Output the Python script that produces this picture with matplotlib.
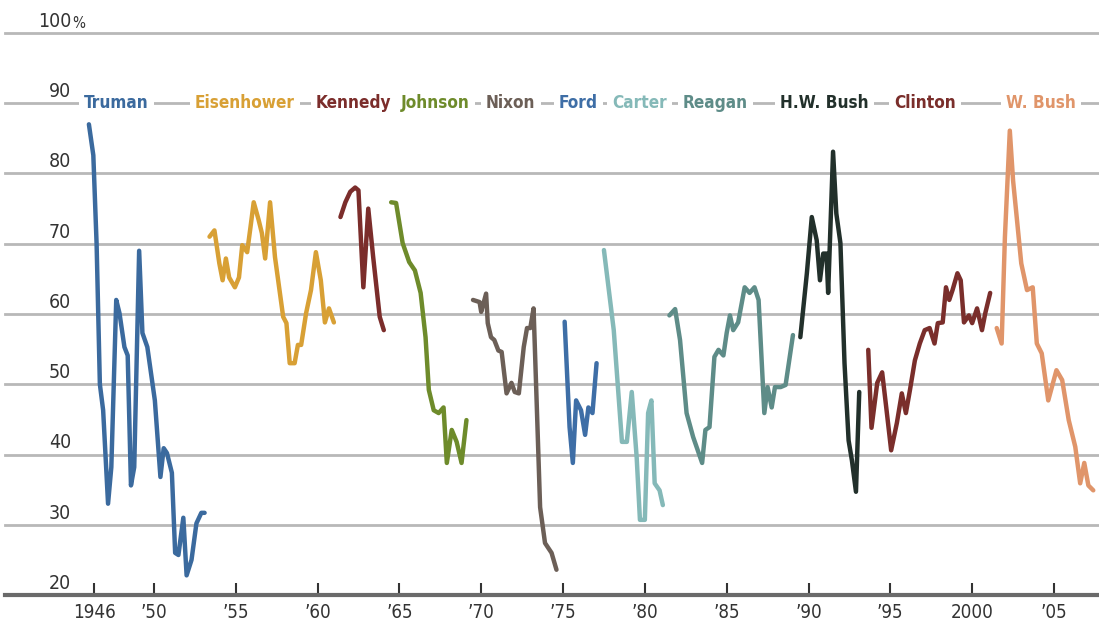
import matplotlib
matplotlib.use("Agg")
import matplotlib.pyplot as plt

# approval ratings (%) by president, x = fractional year
truman_x = [1946.03, 1946.3, 1946.5, 1946.7, 1946.9, 1947.2, 1947.4, 1947.7, 1947.9, 1948.2, 1948.4, 1948.6,
            1948.8, 1949.1, 1949.3, 1949.6, 1950.06, 1950.4, 1950.6, 1950.8, 1951.1, 1951.3, 1951.5, 1951.8,
            1952.0, 1952.3, 1952.6, 1952.9, 1953.1]
truman_y = [87, 82.6, 70, 50, 46.3, 33, 38.2, 62, 60.1, 55.3, 54.1, 35.6,
            38.2, 69, 57.3, 55.3, 47.7, 36.8, 40.9, 40.2, 37.4, 26, 25.7, 31,
            22.8, 25, 30.2, 31.7, 31.7]

eisen_x = [1953.4, 1953.7, 1954.0, 1954.2, 1954.4, 1954.6, 1954.95, 1955.2, 1955.4, 1955.7, 1955.9, 1956.1,
           1956.4, 1956.6, 1956.8, 1957.1, 1957.4, 1957.7, 1957.9, 1958.1, 1958.3, 1958.6, 1958.8, 1959.0,
           1959.3, 1959.6, 1959.9, 1960.2, 1960.45, 1960.7, 1961.0]
eisen_y = [71, 71.9, 67.2, 64.8, 67.9, 65.2, 63.8, 65.2, 69.8, 68.8, 72.3, 75.9,
           73.4, 71.5, 67.9, 75.9, 68.1, 63, 59.6, 58.7, 53, 53, 55.6, 55.6,
           60.1, 63.4, 68.8, 64.8, 58.8, 60.8, 58.8]

kennedy_x = [1961.4, 1961.7, 1962.0, 1962.3, 1962.5, 1962.8, 1963.1, 1963.4, 1963.8, 1964.05]
kennedy_y = [73.8, 75.9, 77.4, 78, 77.6, 63.8, 75, 68.1, 59.6, 57.7]

johnson_x = [1964.5, 1964.8, 1965.2, 1965.6, 1965.95, 1966.3, 1966.6, 1966.8, 1967.1, 1967.4, 1967.7,
             1967.9, 1968.2, 1968.5, 1968.8, 1969.1]
johnson_y = [75.9, 75.8, 70.1, 67.4, 66.2, 63, 56.7, 49.2, 46.3, 45.9, 46.7,
             38.8, 43.5, 41.8, 38.8, 44.9]

nixon_x = [1969.5, 1969.9, 1970.0, 1970.3, 1970.4, 1970.6, 1970.8, 1971.05, 1971.25, 1971.55, 1971.85,
           1972.05, 1972.3, 1972.6, 1972.8, 1973.0, 1973.2, 1973.4, 1973.6, 1973.9, 1974.3, 1974.6]
nixon_y = [62, 61.7, 60.3, 62.9, 58.7, 56.7, 56.3, 54.8, 54.6, 48.7, 50.2,
           48.9, 48.7, 55.3, 58, 58, 60.8, 46.7, 32.5, 27.4, 26, 23.6]

ford_x = [1975.1, 1975.4, 1975.6, 1975.8, 1976.1, 1976.35, 1976.55, 1976.8, 1977.05]
ford_y = [58.9, 43.9, 38.8, 47.7, 46.3, 42.8, 46.7, 45.9, 53]

carter_x = [1977.5, 1978.1, 1978.6, 1978.9, 1979.2, 1979.5, 1979.7, 1980.0, 1980.2, 1980.4, 1980.6,
            1980.9, 1981.1]
carter_y = [69.1, 57.7, 41.8, 41.8, 48.9, 39.6, 30.7, 30.7, 45.9, 47.7, 35.9, 34.9, 32.8]

reagan_x = [1981.5, 1981.85, 1982.15, 1982.55, 1982.95, 1983.5, 1983.7, 1983.95, 1984.25, 1984.5, 1984.8,
            1985.0, 1985.2, 1985.4, 1985.7, 1986.1, 1986.4, 1986.7, 1986.95, 1987.3, 1987.5, 1987.75,
            1987.95, 1988.3, 1988.6, 1989.05]
reagan_y = [59.8, 60.7, 56.3, 45.9, 42.5, 38.8, 43.5, 43.9, 53.9, 54.9, 54.1,
            57.3, 59.8, 57.7, 58.8, 63.8, 63, 63.8, 62, 45.9, 49.6, 46.7,
            49.6, 49.6, 49.9, 57]

hwbush_x = [1989.5, 1989.9, 1990.2, 1990.5, 1990.7, 1990.9, 1991.1, 1991.2, 1991.5, 1991.7, 1991.95,
            1992.2, 1992.45, 1992.65, 1992.9, 1993.1]
hwbush_y = [56.7, 65.8, 73.8, 70.5, 64.8, 68.6, 68.6, 63, 83.1, 74.3, 70.1,
            53, 42, 39.2, 34.7, 48.9]

clinton_x = [1993.65, 1993.85, 1994.2, 1994.5, 1994.75, 1995.05, 1995.4, 1995.7, 1995.95, 1996.2, 1996.5,
             1996.8, 1997.1, 1997.4, 1997.7, 1997.9, 1998.2, 1998.4, 1998.6, 1998.8, 1999.1, 1999.3,
             1999.5, 1999.8, 2000.0, 2000.3, 2000.6, 2000.8, 2001.1]
clinton_y = [54.9, 43.8, 50.2, 51.7, 46.7, 40.6, 44.5, 48.7, 45.9, 49.2, 53.4,
             55.8, 57.7, 58, 55.8, 58.7, 58.8, 63.8, 62, 63.4, 65.8, 64.8,
             58.8, 59.8, 58.7, 60.8, 57.7, 60.1, 63]

wbush_x = [2001.5, 2001.8, 2002.0, 2002.3, 2002.5, 2002.7, 2003.0, 2003.35, 2003.7, 2003.95, 2004.25,
           2004.65, 2005.15, 2005.5, 2005.9, 2006.3, 2006.6, 2006.85, 2007.1, 2007.4]
wbush_y = [58, 55.8, 70.9, 86.1, 79, 74.3, 67.2, 63.4, 63.8, 55.8, 54.4,
           47.7, 52, 50.6, 44.9, 41.1, 35.9, 38.8, 35.6, 34.9]

names = ["Truman", "Eisenhower", "Kennedy", "Johnson", "Nixon", "Ford", "Carter", "Reagan",
         "H.W. Bush", "Clinton", "W. Bush"]
label_x = [1945.72, 1952.5, 1959.9, 1965.1, 1970.3, 1974.75, 1978.0, 1982.33, 1988.26, 1995.23, 2002.08]
colors = ["#3b6a9e", "#d8a035", "#7b2d2b", "#6e8b2b", "#6c5f57", "#3e6ea6", "#85b9b8", "#5e8c88",
          "#22302b", "#7a2e2b", "#e0956a"]
series = [(truman_x, truman_y), (eisen_x, eisen_y), (kennedy_x, kennedy_y), (johnson_x, johnson_y),
          (nixon_x, nixon_y), (ford_x, ford_y), (carter_x, carter_y), (reagan_x, reagan_y),
          (hwbush_x, hwbush_y), (clinton_x, clinton_y), (wbush_x, wbush_y)]

tick_pos = [1946.35, 1950, 1955, 1960, 1965, 1970, 1975, 1980, 1985, 1990, 1995, 2000, 2005]
tick_lab = ["1946", "’50", "’55", "’60", "’65", "’70", "’75", "’80", "’85", "’90", "’95", "2000", "’05"]
y_levels = [20, 30, 40, 50, 60, 70, 80, 90, 100]

font = ["DejaVu Sans"]
stretch = "condensed"

fig = plt.figure(figsize=(10.99, 6.28), dpi=100)
ax = fig.add_axes([0.0045, 0.0525, 0.9955, 0.895])
ax.set_xlim(1940.9, 2007.75)
ax.set_ylim(20, 100)

# grid
for v in y_levels[1:]:
    ax.axhline(v, color="#b8b8b8", lw=2, zorder=1, clip_on=False)
ax.axhline(20, color="#6a6a6a", lw=3, zorder=4, clip_on=False)

# y labels sit on top of the grid lines
for v in y_levels:
    ax.text(1944.95, v + 0.3, str(v), ha="right", va="bottom", fontsize=14, color="#333333",
            family=font, stretch=stretch, zorder=5)
ax.text(1945.0, 100.3, "%", ha="left", va="bottom", fontsize=11, color="#333333",
        family=font, stretch=stretch)

for (xs, ys), c in zip(series, colors):
    ax.plot(xs, ys, color=c, lw=3.2, solid_joinstyle="round", solid_capstyle="round", zorder=3)

# president names on the 90 line
for n, lx, c in zip(names, label_x, colors):
    ax.text(lx, 90, n, ha="left", va="center", fontsize=12.3, fontweight="bold", color=c,
            family=font, stretch=stretch, zorder=6,
            bbox=dict(boxstyle="square,pad=0.3", fc="white", ec="none"))

ax.set_xticks(tick_pos)
ax.set_xticklabels(tick_lab, family=font, stretch=stretch, fontsize=13.5, color="#333333")
ax.tick_params(axis="x", direction="in", length=9, width=1.5, color="#333333", pad=6)
ax.set_yticks([])
for s in ax.spines.values():
    s.set_visible(False)

fig.savefig("out.png", dpi=100)
